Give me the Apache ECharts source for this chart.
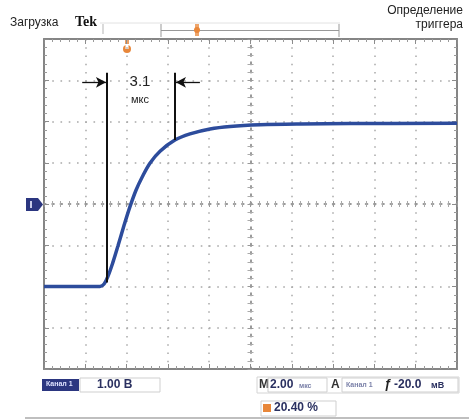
<!DOCTYPE html>
<html><head><meta charset="utf-8">
<script src="https://cdn.jsdelivr.net/npm/echarts@6/dist/echarts.min.js"></script>
<style>html,body{margin:0;padding:0;background:#fff}#c{width:469px;height:419px}</style>
</head><body><div id="c"></div>
<script>
// ---- data (time in µs, 2 µs/div; voltage in V, 1 V/div) ----
const timeUs = [-10, -7.29, -7.09, -6.90, -6.66, -6.42, -6.13, -5.84, -5.54, -5.25, -4.87, -4.38, -3.66, -2.93, -1.96, -0.99, 0.46, 2.40, 4.82, 10];
const volts  = [-2.0, -2.0, -1.94, -1.75, -1.41, -1.02, -0.53, -0.07, 0.34, 0.65, 0.99, 1.28, 1.55, 1.70, 1.82, 1.88, 1.92, 1.94, 1.95, 1.96];
const xRange = [-10, 10];
const yRange = [-4, 4];
const xStep = 2;
const yStep = 1;
// measurement annotation (3.1 µs rise)
const markerTimes = [-6.95, -3.66];
const markerTop = 3.18;
const markerBottoms = [-1.9, 1.55];
const arrowY = 2.95;
const arrowOuter = [-8.15, -2.45];
const measureText = ['3.1', 'мкс'];
const measureTextPos = [[-5.35, 2.96], [-5.35, 2.52]];
// header / status texts
const titleLeft = 'Загрузка';
const titleBrand = 'Tek';
const titleRight = ['Определение', 'триггера'];
const chLabel = 'Канал 1';
const chScale = '1.00 В';
const timebase = '2.00';
const timebaseUnit = 'мкс';
const trigLevel = '-20.0';
const trigUnit = 'мВ';
const trigPos = '20.40 %';

const pts = timeUs.map((t, i) => [t, volts[i]]);
const dotted = [1.6, 6.65];

function xAx(extra) {
  return Object.assign({
    type: 'value', min: xRange[0], max: xRange[1], interval: xStep,
    axisLabel: { show: false }, splitLine: { show: false },
    axisLine: { onZero: false, lineStyle: { color: '#858585', width: 2 } },
    axisTick: { show: true, inside: true, length: 5, lineStyle: { color: '#8c8c8c' } },
    minorTick: { show: true, splitNumber: 5, length: 3, lineStyle: { color: '#9a9a9a' } }
  }, extra);
}
function yAx(extra) {
  return Object.assign({
    type: 'value', min: yRange[0], max: yRange[1], interval: yStep,
    axisLabel: { show: false }, splitLine: { show: false },
    axisLine: { onZero: false, lineStyle: { color: '#858585', width: 2 } },
    axisTick: { show: true, inside: true, length: 5, lineStyle: { color: '#8c8c8c' } },
    minorTick: { show: true, splitNumber: 5, length: 3, lineStyle: { color: '#9a9a9a' } }
  }, extra);
}
const gridDots = { show: true, lineStyle: { color: '#a8a8a8', width: 2, type: dotted, opacity: 0.75 } };
const centerLine = { onZero: true, onZeroAxisIndex: 0, lineStyle: { color: '#9a9a9a', width: 2, type: dotted } };
const centerTick = (inside) => ({ show: true, inside: inside, length: 3, lineStyle: { color: '#999' } });
const centerMinor = (inside) => ({ show: true, splitNumber: 5, length: 3, lineStyle: { color: '#aaa' } });
const hiddenLine = Object.assign({}, centerLine, { lineStyle: { width: 0.01, color: '#999' } });

const chart = echarts.init(document.getElementById('c'), null, { renderer: 'canvas' });
const navy = '#2b3680';
const txt = '#2a3060';
const orange = '#e8873a';

const option = {
  animation: false,
  backgroundColor: '#ffffff',
  grid: { left: 44, top: 39, right: 12, bottom: 50, containLabel: false },
  xAxis: [
    xAx({ position: 'bottom', splitLine: gridDots }),
    xAx({ position: 'top' }),
    xAx({ position: 'bottom', axisLine: centerLine, axisTick: centerTick(true), minorTick: centerMinor(true) }),
    xAx({ position: 'bottom', axisLine: hiddenLine, axisTick: centerTick(false), minorTick: centerMinor(false) })
  ],
  yAxis: [
    yAx({ position: 'left', splitLine: gridDots }),
    yAx({ position: 'right' }),
    yAx({ position: 'left', axisLine: centerLine, axisTick: centerTick(true), minorTick: centerMinor(true) }),
    yAx({ position: 'left', axisLine: hiddenLine, axisTick: centerTick(false), minorTick: centerMinor(false) })
  ],
  series: [{
    type: 'line', xAxisIndex: 0, yAxisIndex: 0,
    data: pts, smooth: 0.35, showSymbol: false, symbol: 'none',
    lineStyle: { color: '#2d4c9c', width: 3.5 },
    markLine: {
      silent: true, symbol: 'none', animation: false,
      label: { show: false },
      lineStyle: { color: '#111', width: 2, type: 'solid' },
      data: [
        [{ coord: [markerTimes[0], markerTop] }, { coord: [markerTimes[0], markerBottoms[0]] }],
        [{ coord: [markerTimes[1], markerTop] }, { coord: [markerTimes[1], markerBottoms[1]] }],
        [{ coord: [arrowOuter[0], arrowY], symbol: 'none', lineStyle: { width: 1.3 } }, { coord: [markerTimes[0] - 0.05, arrowY], symbol: 'arrow', symbolSize: [8, 10], lineStyle: { width: 1.3 } }],
        [{ coord: [arrowOuter[1], arrowY], symbol: 'none', lineStyle: { width: 1.3 } }, { coord: [markerTimes[1] + 0.05, arrowY], symbol: 'arrow', symbolSize: [8, 10], lineStyle: { width: 1.3 } }]
      ]
    },
    markPoint: {
      silent: true, symbol: 'circle', symbolSize: 0,
      data: [
        { coord: measureTextPos[0], label: { show: true, formatter: measureText[0], position: 'inside', color: '#222', fontSize: 15, fontFamily: 'Liberation Sans Narrow, Liberation Sans, sans-serif' } },
        { coord: measureTextPos[1], label: { show: true, formatter: measureText[1], position: 'inside', color: '#222', fontSize: 11, fontFamily: 'Liberation Sans, sans-serif' } }
      ]
    }
  }],
  graphic: [
    // header
    { type: 'text', left: 10, top: 17, style: { text: titleLeft, font: '12px "Liberation Sans", sans-serif', fill: '#222' } },
    { type: 'text', left: 75, top: 15, style: { text: titleBrand, font: 'bold 14px "Liberation Serif", serif', fill: '#111' } },
    { type: 'text', right: 6, top: 5, style: { text: titleRight[0], font: '12px "Liberation Sans", sans-serif', fill: '#222', align: 'right' } },
    { type: 'text', right: 6, top: 19, style: { text: titleRight[1], font: '12px "Liberation Sans", sans-serif', fill: '#222', align: 'right' } },
    // record bar
    { type: 'line', shape: { x1: 100, y1: 23, x2: 340, y2: 23 }, style: { stroke: '#e2e2e2', lineWidth: 1 } },
    { type: 'line', shape: { x1: 103, y1: 24, x2: 103, y2: 34 }, style: { stroke: '#b5b5b5', lineWidth: 1 } },
    { type: 'line', shape: { x1: 161, y1: 24, x2: 161, y2: 37 }, style: { stroke: '#999', lineWidth: 1 } },
    { type: 'line', shape: { x1: 339, y1: 24, x2: 339, y2: 37 }, style: { stroke: '#999', lineWidth: 1 } },
    { type: 'line', shape: { x1: 161, y1: 30.5, x2: 339, y2: 30.5 }, style: { stroke: '#999', lineWidth: 1.2 } },
    { type: 'rect', shape: { x: 195, y: 24, width: 4, height: 12 }, style: { fill: orange, opacity: 0.75 } },
    { type: 'circle', shape: { cx: 197, cy: 30, r: 3 }, style: { fill: orange } },
    // trigger position marker
    { type: 'rect', shape: { x: 125, y: 39, width: 4, height: 5 }, style: { fill: orange, opacity: 0.8 } },
    { type: 'circle', shape: { cx: 127, cy: 49, r: 4 }, style: { fill: orange } },
    { type: 'rect', shape: { x: 125.5, y: 45, width: 3, height: 4 }, style: { fill: '#fff' } },
    // channel ground marker
    { type: 'polygon', shape: { points: [[26, 198], [38, 198], [43, 204.5], [38, 211], [26, 211]] }, style: { fill: navy } },
    { type: 'rect', shape: { x: 30, y: 201, width: 2, height: 7 }, style: { fill: '#c8cce8' } },
    // status line left
    { type: 'rect', shape: { x: 42, y: 379, width: 37, height: 12 }, style: { fill: navy } },
    { type: 'text', left: 46, top: 381, style: { text: chLabel, font: 'bold 7px "Liberation Sans", sans-serif', fill: '#dfe3ff' } },
    { type: 'rect', shape: { x: 80, y: 378, width: 80, height: 14 }, style: { fill: '#fff', stroke: '#cfcfcf', lineWidth: 1 } },
    { type: 'text', left: 97, top: 379, style: { text: chScale, font: 'bold 12px "Liberation Sans", sans-serif', fill: txt } },
    // status line right
    { type: 'rect', shape: { x: 257, y: 377, width: 202, height: 16 }, style: { fill: '#fff', stroke: '#d4d4d4', lineWidth: 1 } },
    { type: 'text', left: 259, top: 379, style: { text: 'M', font: 'bold 12px "Liberation Sans", sans-serif', fill: '#333' } },
    { type: 'rect', shape: { x: 268, y: 378, width: 59, height: 14 }, style: { fill: 'none', stroke: '#cfcfcf', lineWidth: 1 } },
    { type: 'text', left: 270, top: 379, style: { text: timebase, font: 'bold 12px "Liberation Sans", sans-serif', fill: txt } },
    { type: 'text', left: 299, top: 383, style: { text: timebaseUnit, font: 'bold 7px "Liberation Sans", sans-serif', fill: '#7a80a8' } },
    { type: 'text', left: 331, top: 379, style: { text: 'A', font: 'bold 12px "Liberation Sans", sans-serif', fill: '#333' } },
    { type: 'rect', shape: { x: 342, y: 378, width: 116, height: 14 }, style: { fill: 'none', stroke: '#cfcfcf', lineWidth: 1 } },
    { type: 'text', left: 346, top: 382, style: { text: chLabel, font: 'bold 7px "Liberation Sans", sans-serif', fill: '#7a80a8' } },
    { type: 'text', left: 384, top: 378, style: { text: 'ƒ', font: 'bold italic 13px "Liberation Sans", sans-serif', fill: '#222' } },
    { type: 'text', left: 394, top: 379, style: { text: trigLevel, font: 'bold 12px "Liberation Sans", sans-serif', fill: txt } },
    { type: 'text', left: 431, top: 381, style: { text: trigUnit, font: 'bold 9px "Liberation Sans", sans-serif', fill: txt } },
    // trigger percent
    { type: 'rect', shape: { x: 261, y: 401, width: 75, height: 15 }, style: { fill: '#fff', stroke: '#cfcfcf', lineWidth: 1 } },
    { type: 'rect', shape: { x: 263, y: 404, width: 8, height: 8 }, style: { fill: orange } },
    { type: 'text', left: 274, top: 402, style: { text: trigPos, font: 'bold 12px "Liberation Sans", sans-serif', fill: txt } },
    // bottom rule
    { type: 'line', shape: { x1: 25, y1: 418, x2: 469, y2: 418 }, style: { stroke: '#aaa', lineWidth: 1.5 } }
  ]
};
chart.setOption(option);
</script>
</body></html>
